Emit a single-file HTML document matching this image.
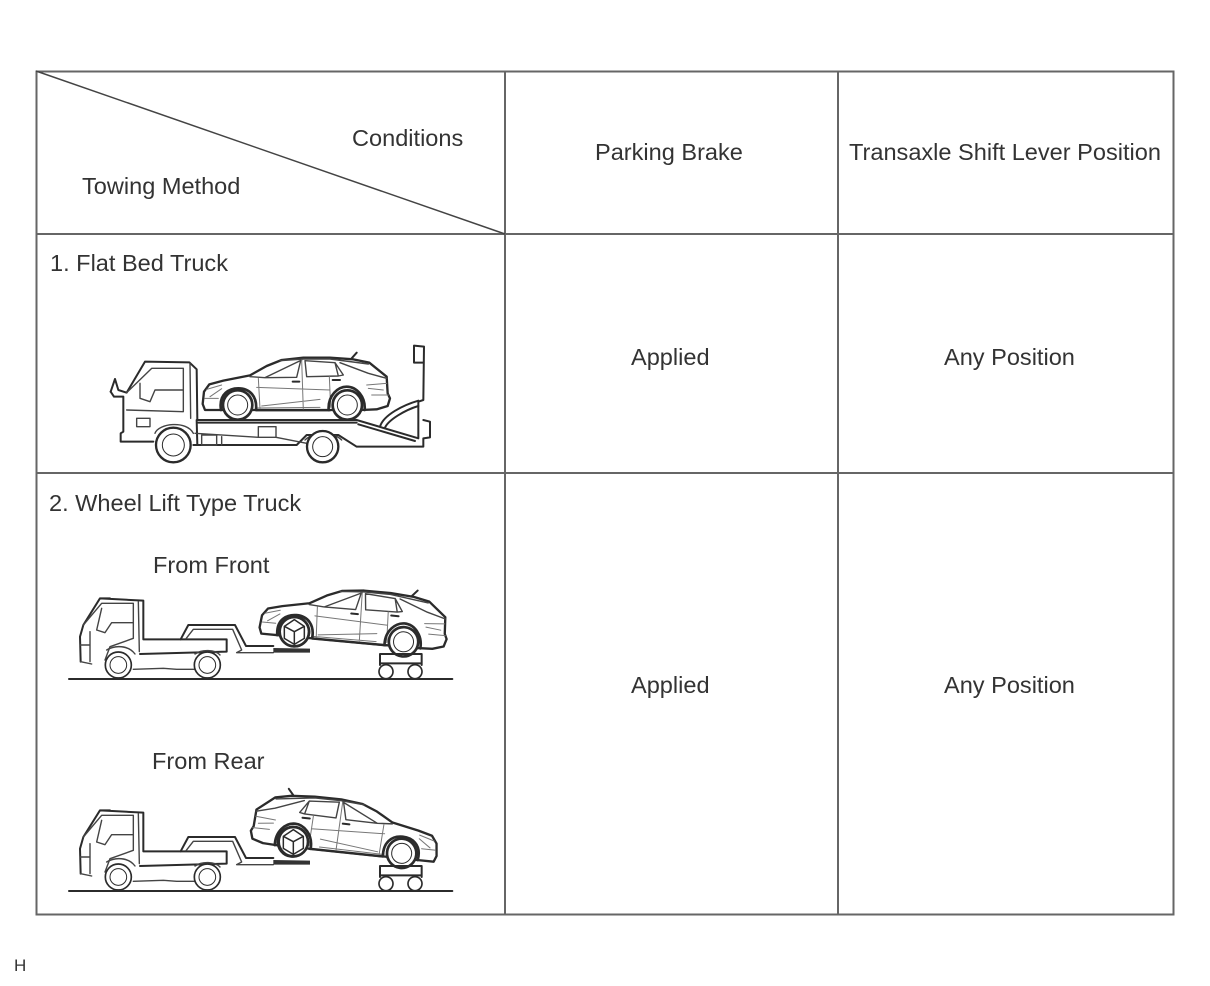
<!DOCTYPE html>
<html><head><meta charset="utf-8"><style>
html,body{margin:0;padding:0;background:#fff}
svg{display:block;filter:blur(.35px)}
text{font-family:"Liberation Sans",sans-serif;font-size:23.55px;fill:#333}
.l{fill:none;stroke:#2b2b2b;stroke-width:6;stroke-linejoin:round;stroke-linecap:round}
.m{fill:none;stroke:#444;stroke-width:4.2;stroke-linejoin:round;stroke-linecap:round}
.t{fill:none;stroke:#777;stroke-width:3;stroke-linejoin:round;stroke-linecap:round}
.w{fill:#fff;stroke:#2b2b2b;stroke-width:5}
</style></head><body>
<svg width="1210" height="986" viewBox="0 0 1210 986" xmlns="http://www.w3.org/2000/svg">
<defs>
<g id="car">
<path class="w" style="stroke-width:7;stroke-linejoin:round" d="M338,222 L342,185 L358,163 L400,152 L480,136 L530,108 L575,90 L640,83 L720,83 L790,88 L838,98 L890,140 L893,190 L900,205 L893,228 L860,238 L815,240 L725,240 L495,240 L395,240 L345,240 Z"/>
<path class="m" d="M480,140 L525,143 L635,90 M525,143 L620,142 L632,92 M645,92 L650,140 L745,138 L735,98 Z M735,98 L760,135 L745,138 M750,98 L835,130 L890,145 M570,92 L640,87 L720,87 L835,102"/>
<path class="t" d="M635,90 L640,242 M505,145 L510,236 M718,140 L722,232 M500,172 L720,180 M515,228 L690,208 M360,200 L395,176 M830,165 L890,160 M845,195 L895,195 M350,178 L395,165 M500,234 L690,232 M345,205 L385,205 M835,175 L880,180"/>
<path class="l" d="M608,155 L628,155 M728,150 L750,150 M785,85 L800,68 M500,241 L720,241"/>
<path class="l" style="stroke-width:8" d="M393,240 C385,190 420,175 445,175 C480,175 502,200 498,240 M716,240 C713,195 745,170 770,170 C800,170 827,200 824,240"/>
<circle class="w" cx="443" cy="225" r="44" style="stroke-width:8"/>
<circle class="w" cx="443" cy="225" r="30" style="stroke-width:3"/>
<circle class="w" cx="772" cy="225" r="44" style="stroke-width:8"/>
<circle class="w" cx="772" cy="225" r="30" style="stroke-width:3"/>
</g>
<g id="tow">
<path class="l" style="stroke-width:6" d="M27,297 L1177,297"/>
<path class="l" d="M62,245 L60,170 L70,135 L120,55 L250,62 L250,178 L500,178 L500,215 L240,222 M120,55 L150,55"/>
<path class="m" d="M62,245 L95,252 M90,155 L90,245 M70,135 L125,70 L220,70 L220,175 L150,200 L135,240 M125,85 L110,150 L135,158 L155,128 L220,128 M235,65 L238,215 M220,268 L310,265 L350,268 L402,268 M90,195 L60,195"/>
<path class="m" d="M140,210 C165,195 205,195 225,222 M405,222 C425,208 465,208 480,225"/>
<path class="l" d="M362,178 L385,135 L525,135 L558,198 L640,198"/>
<path class="m" d="M378,176 L400,148 L518,148 L545,210 L530,218 L640,218"/>
<path d="M640,204 L750,206 L750,218 L640,218 Z" fill="#333"/>
<circle class="w" cx="175" cy="255" r="39"/><circle class="w" cx="175" cy="255" r="25" style="stroke-width:3"/>
<circle class="w" cx="442" cy="255" r="39"/><circle class="w" cx="442" cy="255" r="25" style="stroke-width:3"/>
<path class="l" d="M960,222 L1085,222 L1085,255 M960,222 L960,255 M960,250 L1085,250"/>
<circle class="w" cx="978" cy="275" r="21" style="stroke-width:5"/>
<circle class="w" cx="1065" cy="275" r="21" style="stroke-width:5"/>
</g>
<g id="cube">
<circle class="w" r="44" style="stroke-width:8"/>
<path class="l" style="stroke-width:4.500" d="M0,0 L-30,-16 L0,-36 L30,-16 Z M0,0 L0,38 L-30,20 L-30,-16 M0,38 L30,20 L30,-16"/>
</g>
</defs>

<rect width="1210" height="986" fill="#fff"/>
<g fill="none" stroke="#666" stroke-width="2">
<rect x="36.500" y="71.500" width="1137" height="843"/>
<path d="M505,71 V914 M838,71 V914 M36,234 H1173 M36,473 H1173"/>
<path d="M36,71 L505,234" stroke-width="1.500" stroke="#444"/>
</g>

<text x="352" y="146">Conditions</text>
<text x="82" y="194">Towing Method</text>
<text x="595" y="160">Parking Brake</text>
<text x="849" y="160">Transaxle Shift Lever Position</text>
<text x="50" y="271">1. Flat Bed Truck</text>
<text x="631" y="365">Applied</text>
<text x="944" y="365">Any Position</text>
<text x="49" y="511">2. Wheel Lift Type Truck</text>
<text x="153" y="573">From Front</text>
<text x="631" y="693">Applied</text>
<text x="944" y="693">Any Position</text>
<text x="152" y="769">From Rear</text>
<text x="14" y="971" style="font-size:17px">H</text>

<g transform="translate(90,330) scale(.33333)">
<path class="l" d="M62,185 L75,147 L85,180 L110,188 L165,95 L298,97 L320,118 L322,270 L800,270 L985,325 L985,215 L1000,210 L1002,50 L972,47 L972,98 L1000,98 M1000,270 L1020,275 L1020,322 L1000,325 L1000,350 L800,350 L745,315 L650,315 L620,345 L530,345 L400,345 L310,345"/>
<path class="l" d="M62,185 L72,200 L100,200 L100,305 L92,310 L92,335 L190,335 M320,270 L322,345 M870,290 C880,255 940,225 985,212 M885,293 C895,270 945,240 985,228 M805,283 L975,333 M325,278 L800,278"/>
<path class="m" d="M110,188 L185,115 L280,115 L280,245 L110,240 M150,160 L150,205 L180,215 L195,180 L280,180 M300,100 L302,265 M505,290 H558 V322 H505 Z M140,265 H180 V290 H140 Z M335,315 H380 V345 H335 Z M395,320 V345 M315,310 L505,322 M558,322 L650,340"/>
<path class="m" d="M195,310 C205,280 290,270 310,310 M645,330 C670,305 730,305 755,330"/>
<use href="#car"/>
<circle class="w" cx="250" cy="345" r="52" style="stroke-width:7"/><circle class="w" cx="250" cy="345" r="33" style="stroke-width:3"/>
<circle class="w" cx="698" cy="350" r="47" style="stroke-width:7"/><circle class="w" cx="698" cy="350" r="30" style="stroke-width:3"/>
</g>

<g transform="translate(60,580) scale(.33333)">
<use href="#car" transform="translate(703,155) rotate(5.300) translate(-443,-225)"/>
<use href="#tow"/>
<use href="#cube" x="703" y="155"/>
</g>

<g transform="translate(60,792) scale(.33333)">
<use href="#car" transform="translate(1025,184) rotate(6) scale(-1,1) translate(-443,-225)"/>
<use href="#tow"/>
<use href="#cube" x="700" y="149"/>
</g>
</svg>
</body></html>
